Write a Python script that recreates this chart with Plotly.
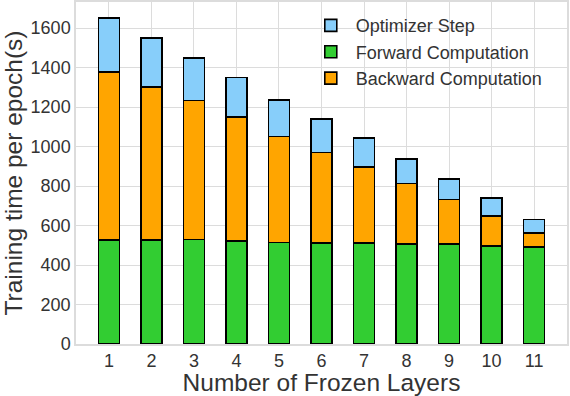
import plotly.graph_objects as go

# number of frozen layers on the x axis
layers = [1, 2, 3, 4, 5, 6, 7, 8, 9, 10, 11]

# seconds per epoch, stacked bottom to top
forward = [527, 527, 530, 523, 515, 513, 513, 506, 506, 496, 491]
backward = [851, 774, 704, 628, 537, 458, 385, 308, 227, 152, 72]
optimizer = [272, 249, 216, 199, 183, 169, 147, 123, 104, 92, 67]

y_ticks = [0, 200, 400, 600, 800, 1000, 1200, 1400, 1600]

text_color = "#333333"
grid_color = "#dcdcdc"

fig = go.Figure()

# stacking order: forward, backward, then optimizer; legend order differs
fig.add_trace(go.Bar(x=layers, y=forward, name="Forward Computation",
                     marker=dict(color="#32CD32", line=dict(color="black", width=1.6)),
                     width=0.5, legendrank=2, legendgroup="f"))
fig.add_trace(go.Bar(x=layers, y=backward, name="Backward Computation",
                     marker=dict(color="#FFA500", line=dict(color="black", width=1.6)),
                     width=0.5, legendrank=3, legendgroup="b"))
fig.add_trace(go.Bar(x=layers, y=optimizer, name="Optimizer Step",
                     marker=dict(color="#87CEFA", line=dict(color="black", width=1.6)),
                     width=0.5, legendrank=1, legendgroup="o"))

fig.update_layout(
    barmode="stack",
    width=570, height=396,
    margin=dict(l=76, r=3, t=2, b=52, autoexpand=False),
    paper_bgcolor="white",
    plot_bgcolor="white",
    font=dict(family="Liberation Sans, Arial, sans-serif", size=18, color=text_color),
    showlegend=True,
    legend=dict(x=0.468, y=0.985, xanchor="left", yanchor="top",
                traceorder="normal",
                bgcolor="rgba(255,255,255,0)", font=dict(size=18),
                itemwidth=40, tracegroupgap=4),
    xaxis=dict(
        title=dict(text="Number of Frozen Layers", font=dict(size=24.5), standoff=5),
        range=[0.225, 11.775],
        tickvals=layers,
        showgrid=True, gridcolor=grid_color, gridwidth=1,
        showline=True, linecolor=grid_color, linewidth=1.5, mirror=True,
        ticks="", zeroline=False, automargin=False,
    ),
    yaxis=dict(
        title=dict(text="Training time per epoch(s)", font=dict(size=24.5), standoff=5),
        range=[0, 1732.5],
        tickvals=y_ticks,
        showgrid=True, gridcolor=grid_color, gridwidth=1,
        showline=True, linecolor=grid_color, linewidth=1.5, mirror=True,
        ticks="", zeroline=False, automargin=False,
    ),
)

# the page's default body margin would shift the figure by 8px
fig.write_html("out.html", config={"displayModeBar": False},
               post_script="document.body.style.margin='0';")
